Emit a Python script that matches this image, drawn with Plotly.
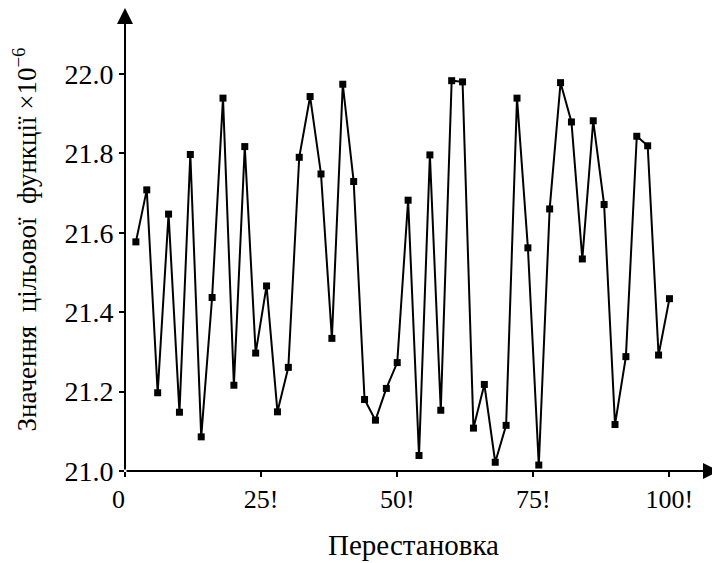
import plotly.graph_objects as go

# Data
x_values = list(range(2, 101, 2))
y_values = [
    21.577, 21.708, 21.197, 21.647, 21.148, 21.797, 21.086, 21.437, 21.939, 21.216,
    21.817, 21.297, 21.466, 21.149, 21.261, 21.790, 21.943, 21.748, 21.334, 21.974,
    21.729, 21.180, 21.128, 21.208, 21.273, 21.682, 21.039, 21.796, 21.153, 21.983,
    21.980, 21.108, 21.218, 21.022, 21.115, 21.939, 21.562, 21.015, 21.660, 21.978,
    21.879, 21.534, 21.882, 21.671, 21.117, 21.288, 21.843, 21.819, 21.292, 21.434,
]
x_tick_vals = [0, 25, 50, 75, 100]
x_tick_text = ["0\u00a0\u00a0", "25!", "50!", "75!", "100!"]
y_tick_vals = [21.0, 21.2, 21.4, 21.6, 21.8, 22.0]
y_tick_text = ["21.0", "21.2", "21.4", "21.6", "21.8", "22.0"]
x_title = "Перестановка"
y_title = "Значення  цільової  функції ×10<sup>−6</sup>"

X_MAX = 109.1
Y_MIN = 21.0
Y_MAX = 22.166

FONT = "Liberation Serif"

fig = go.Figure()
fig.add_trace(go.Scatter(
    x=x_values, y=y_values, mode="lines+markers",
    line=dict(color="black", width=2),
    marker=dict(symbol="square", size=7, color="black"),
    showlegend=False, cliponaxis=False,
))

# Axis arrows
fig.add_annotation(x=X_MAX, y=Y_MIN, ax=0, ay=Y_MIN, xref="x", yref="y", axref="x", ayref="y",
                   showarrow=True, arrowhead=2, arrowsize=1.6, arrowwidth=2, arrowcolor="black", text="")
fig.add_annotation(x=0, y=Y_MAX, ax=0, ay=Y_MIN, xref="x", yref="y", axref="x", ayref="y",
                   showarrow=True, arrowhead=2, arrowsize=1.6, arrowwidth=2, arrowcolor="black", text="")

# X axis title
fig.add_annotation(text=x_title, xref="paper", yref="paper", x=0.485, y=0,
                   xanchor="center", yanchor="middle", yshift=-74, showarrow=False,
                   font=dict(family=FONT, size=29, color="black"))

fig.update_xaxes(
    range=[0, X_MAX], showgrid=False, zeroline=False, showline=False,
    tickmode="array", tickvals=x_tick_vals, ticktext=x_tick_text,
    ticks="outside", ticklen=5, tickwidth=2, tickcolor="black",
    tickfont=dict(family=FONT, size=26, color="black"),
)
fig.update_yaxes(
    range=[Y_MIN, Y_MAX], showgrid=False, zeroline=False, showline=False,
    tickmode="array", tickvals=y_tick_vals, ticktext=y_tick_text,
    ticks="outside", ticklen=5, tickwidth=2, tickcolor="black",
    tickfont=dict(family=FONT, size=28, color="black"),
    title=dict(text=y_title, font=dict(family=FONT, size=27, color="black"), standoff=21),
)
fig.update_layout(
    width=720, height=563,
    margin=dict(l=117, r=9, t=0, b=100, autoexpand=False),
    plot_bgcolor="white", paper_bgcolor="white",
)
fig.write_html("out.html")
